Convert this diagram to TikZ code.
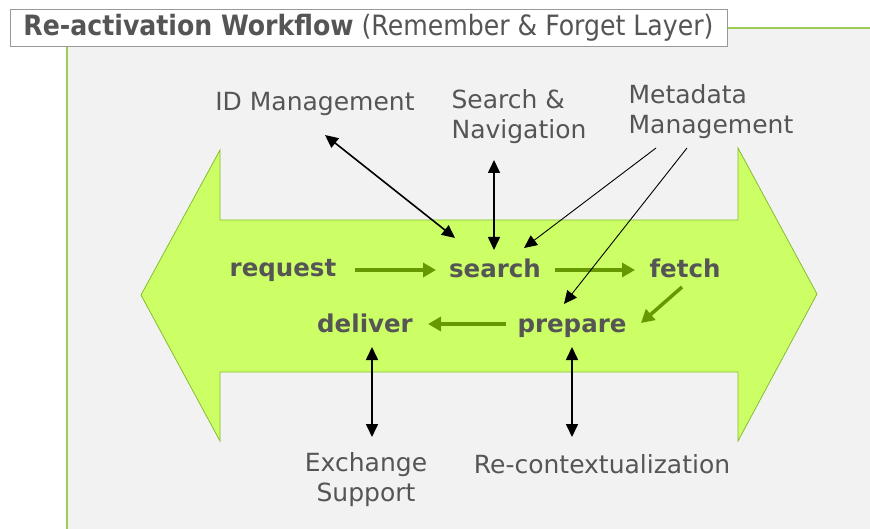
\documentclass[tikz,border=0pt]{standalone}
\usepackage{fontspec}
\setmainfont{DejaVu Sans}
\newfontfamily\condfont{DejaVu Sans Condensed}
\usetikzlibrary{arrows.meta,calc}
\definecolor{bgray}{HTML}{F2F2F2}
\definecolor{lgreen}{HTML}{CCFF66}
\definecolor{bgreen}{HTML}{88BB33}
\definecolor{edgegreen}{HTML}{9CCC55}
\definecolor{dgreen}{HTML}{669900}
\definecolor{tgray}{HTML}{555555}
\begin{document}
\begin{tikzpicture}[x=1pt,y=-1pt,
  wf/.style={font=\fontsize{24.5}{29}\selectfont\bfseries, text=tgray, inner sep=0pt, anchor=base},
  lbl/.style={font=\fontsize{25}{30}\selectfont, text=tgray, inner sep=0pt},
  flow/.style={draw=dgreen, line width=3.5pt, -{Triangle[length=13pt,width=14pt]}},
  link/.style={draw=black, line width=1.6pt, {Triangle[length=13pt,width=12pt]}-{Triangle[length=13pt,width=12pt]}},
  thinlink/.style={draw=black, line width=0.9pt, -{Triangle[length=13pt,width=12pt]}}]
\useasboundingbox (0,0) rectangle (870,529);
\fill[white] (0,0) rectangle (870,529);
\fill[bgray] (67,28) rectangle (870,529);
\draw[edgegreen, line width=1.6pt] (67,529) -- (67,28) -- (870,28);
\node (title) [draw=gray!80, fill=white, minimum width=717pt, minimum height=37pt, inner sep=0pt,
  font=\condfont\fontsize{28}{32}\selectfont, text=tgray] at (368.5,27.5)
  {\textbf{Re-activation Workflow} (Remember \& Forget Layer)};
% big double arrow
\filldraw[fill=lgreen, draw=bgreen, line width=0.8pt]
  (141,295) -- (220,150) -- (220,220) -- (738,220) -- (738,148) -- (817,294)
  -- (738,441) -- (738,372) -- (220,372) -- (220,441) -- cycle;
% workflow steps
\node[wf] (req) at (283,277) {request};
\node[wf] (search) at (495,278) {search};
\node[wf] (fetch) at (685,278) {fetch};
\node[wf] (deliver) at (365,333) {deliver};
\node[wf] (prepare) at (572,333) {prepare};
% labels
\node[lbl] (idm) at (315,104) {ID Management};
\node[lbl, align=left] (sn) at (519,117) {Search \&\\Navigation};
\node[lbl, align=left] (md) at (711,112) {Metadata\\Management};
\node[lbl, align=center] (ex) at (366,480) {Exchange\\Support};
\node[lbl] (rc) at (602,464) {Re-contextualization};
% flow arrows
\draw[flow] ($(req.base)+(72,-7)$) -- ($(search.base)+(-59,-8)$);
\draw[flow] ($(search.base)+(60,-8)$) -- ($(fetch.base)+(-50,-8)$);
\draw[flow] ($(fetch.base)+(-3,9)$) -- ($(prepare.base)+(69,-10)$);
\draw[flow] ($(prepare.base)+(-66,-9)$) -- ($(deliver.base)+(63,-9)$);
% support links
\draw[link] ($(idm)+(10,31)$) -- ($(search.base)+(-40,-40)$);
\draw[link] ($(sn)+(-25,43)$) -- ($(search.base)+(-1,-28)$);
\draw[thinlink] ($(md)+(-55,36)$) -- ($(search.base)+(29,-30)$);
\draw[thinlink] ($(md)+(-24,36)$) -- ($(prepare.base)+(-8,-29)$);
\draw[link] ($(deliver.base)+(7,14)$) -- ($(ex)+(6,-43)$);
\draw[link] ($(prepare.base)+(0,14)$) -- ($(rc)+(-30,-27)$);
\end{tikzpicture}
\end{document}
